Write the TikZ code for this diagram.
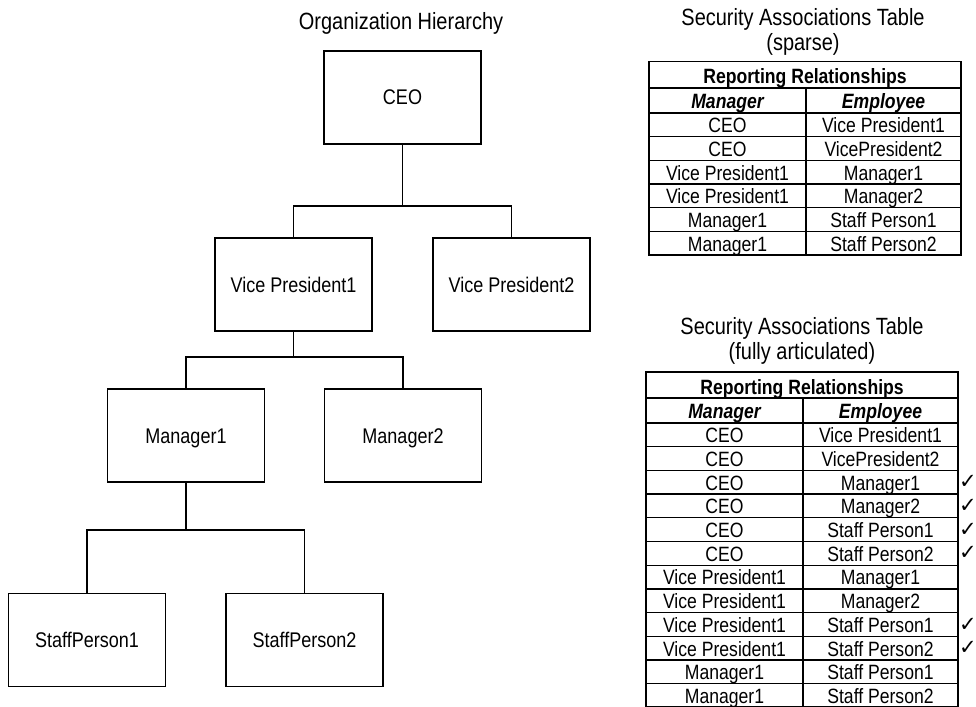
\documentclass[tikz,border=0pt]{standalone}
\usepackage{fontspec}
\setmainfont[FakeStretch=0.85]{Liberation Sans}
\newfontfamily\checkfont{DejaVu Sans}
\begin{document}
\begin{tikzpicture}[x=1pt,y=-1pt]
\tikzset{
 orgbox/.style={draw, line width=1.5pt, minimum width=157pt, minimum height=93pt, inner sep=0pt,
   font=\fontsize{21.2}{25}\selectfont, text height=15pt, text depth=0pt},
 conn/.style={line width=1.5pt},
 ttl/.style={font=\fontsize{23.5}{28}\selectfont, anchor=base, inner sep=0pt},
 cell/.style={font=\fontsize{20.7}{24}\selectfont, anchor=base, inner sep=0pt},
 hcell/.style={cell, font=\fontsize{20.7}{24}\selectfont\bfseries},
 icell/.style={cell, font=\fontsize{20.7}{24}\selectfont\bfseries\itshape},
 tline/.style={line width=1.3pt},
 touter/.style={line width=1.9pt},
 chk/.style={font=\checkfont\fontsize{21}{24}\selectfont, inner sep=0pt}
}
\useasboundingbox[fill=white] (0,0) rectangle (976,706);

% ---------- Organization hierarchy ----------
\node[ttl] (orgtitle) at (401,30) {Organization Hierarchy};
\node[orgbox] (ceo) at (402.5,97.5) {CEO};
\node[orgbox] (vp1) at (293.5,284.5) {Vice President1};
\node[orgbox] (vp2) at (511.5,284.5) {Vice President2};
\node[orgbox] (m1) at (186,435.5) {Manager1};
\node[orgbox] (m2) at (403,435.5) {Manager2};
\node[orgbox] (sp1) at (87,640) {StaffPerson1};
\node[orgbox] (sp2) at (304.5,640) {StaffPerson2};

\coordinate (j1) at (402.5,206);
\coordinate (j2) at (293.5,357);
\coordinate (j3) at (186,530);
\draw[conn] (ceo.south) -- (j1) -| (vp1.north);
\draw[conn] (j1) -| (vp2.north);
\draw[conn] (vp1.south) -- (j2) -| (m1.north);
\draw[conn] (j2) -| (m2.north);
\draw[conn] (m1.south) -- (j3) -| (sp1.north);
\draw[conn] (j3) -| (sp2.north);

% ---------- Table 1 (sparse) ----------
\node[ttl] (t1a) at (803,26) {Security Associations Table};
\node[ttl] (t1b) at (803,51) {(sparse)};
\node[hcell] (h1) at (805,84) {Reporting Relationships};
\node[icell] (h1m) at (727.5,108.5) {Manager};
\node[icell] (h1e) at (883.5,108.5) {Employee};
\foreach \m/\e [count=\i] in {CEO/Vice President1, CEO/VicePresident2,
  Vice President1/Manager1, Vice President1/Manager2,
  Manager1/Staff Person1, Manager1/Staff Person2}{
  \node[cell] (a\i m) at (727.5,{113+23.7*\i-4}) {\m};
  \node[cell] (a\i e) at (883.5,{113+23.7*\i-4}) {\e};
}
\foreach \i in {1,...,5}{
  \draw[tline] (649,{113+23.7*\i}) -- (961,{113+23.7*\i});
}
\draw[tline] (649,88) -- (961,88);
\draw[tline] (649,113) -- (961,113);
\draw[tline] (806,88) -- (806,255.2);
\draw[touter] (649,61.5) rectangle (961,255.2);

% ---------- Table 2 (fully articulated) ----------
\node[ttl] (t2a) at (802,334) {Security Associations Table};
\node[ttl] (t2b) at (802,359) {(fully articulated)};
\node[hcell] (h2) at (802,394) {Reporting Relationships};
\node[icell] (h2m) at (724.5,418.5) {Manager};
\node[icell] (h2e) at (880.5,418.5) {Employee};
\foreach \m/\e [count=\i] in {CEO/Vice President1, CEO/VicePresident2,
  CEO/Manager1, CEO/Manager2, CEO/Staff Person1, CEO/Staff Person2,
  Vice President1/Manager1, Vice President1/Manager2,
  Vice President1/Staff Person1, Vice President1/Staff Person2,
  Manager1/Staff Person1, Manager1/Staff Person2}{
  \node[cell] (b\i m) at (724.5,{423+23.7*\i-4}) {\m};
  \node[cell] (b\i e) at (880.5,{423+23.7*\i-4}) {\e};
}
\foreach \i in {3,4,5,6,9,10}{
  \node[chk] (c\i) at (968,{423+23.7*(\i-0.5)}) {✓};
}
\begin{scope}
\clip (0,0) rectangle (976,706);
\foreach \i in {1,...,11}{
  \draw[tline] (646,{423+23.7*\i}) -- (958,{423+23.7*\i});
}
\draw[tline] (646,398) -- (958,398);
\draw[tline] (646,423) -- (958,423);
\draw[tline] (803,398) -- (803,707.4);
\draw[touter] (646,372) rectangle (958,707.4);
\end{scope}
\end{tikzpicture}
\end{document}
